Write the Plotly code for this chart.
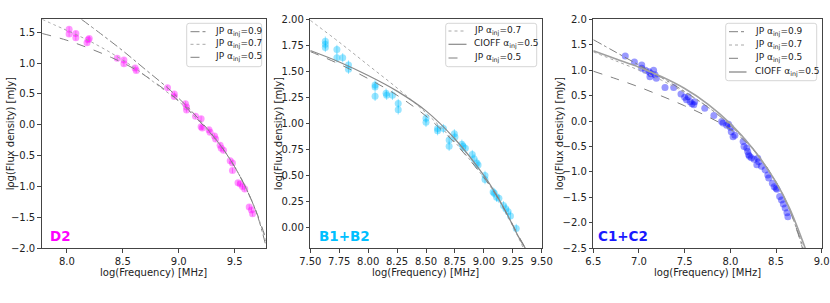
import plotly.graph_objects as go

# ---------------- data ----------------
# Panel D2
d2_x = [8.02, 8.02, 8.08, 8.08, 8.18, 8.19, 8.20, 8.45, 8.51, 8.51, 8.61, 8.62, 8.90, 8.96, 8.96,
        9.06, 9.07, 9.07, 9.15, 9.20, 9.20, 9.21, 9.27, 9.28, 9.32, 9.33, 9.37, 9.38, 9.40, 9.46,
        9.48, 9.48, 9.53, 9.55, 9.57, 9.59, 9.63, 9.65, 9.66]
d2_y = [1.55, 1.47, 1.48, 1.41, 1.33, 1.38, 1.40, 1.08, 1.05, 0.99, 0.92, 0.88, 0.60, 0.50, 0.46,
        0.34, 0.29, 0.24, 0.14, 0.10, -0.03, -0.05, -0.08, -0.12, -0.18, -0.23, -0.33, -0.38, -0.41, -0.58,
        -0.62, -0.74, -0.94, -0.96, -1.00, -1.04, -1.33, -1.38, -1.44]
d2_err = 0.04

d2_jp09_x = [8.13, 8.3, 8.5, 8.7, 8.9, 9.0, 9.1, 9.2, 9.3, 9.4, 9.5, 9.6, 9.7, 9.78]
d2_jp09_y = [1.71, 1.48, 1.20, 0.90, 0.60, 0.43, 0.25, 0.05, -0.16, -0.40, -0.68, -1.02, -1.45, -1.97]
d2_jp07_x = [7.78, 7.9, 8.0, 8.2, 8.4, 8.6, 8.8, 9.0, 9.1, 9.2, 9.3, 9.4, 9.5, 9.6, 9.7, 9.78]
d2_jp07_y = [1.71, 1.61, 1.53, 1.36, 1.16, 0.93, 0.66, 0.38, 0.21, 0.03, -0.17, -0.40, -0.68, -1.02, -1.44, -1.90]
d2_jp05_x = [7.78, 8.0, 8.2, 8.4, 8.6, 8.8, 9.0, 9.1, 9.2, 9.3, 9.4, 9.5, 9.6, 9.7, 9.78]
d2_jp05_y = [1.48, 1.37, 1.24, 1.09, 0.91, 0.67, 0.39, 0.22, 0.03, -0.17, -0.40, -0.68, -1.02, -1.44, -1.85]

# Panel B1+B2
b_x = [7.63, 7.63, 7.63, 7.73, 7.73, 7.78, 7.83, 7.83, 8.06, 8.06, 8.06, 8.155, 8.16, 8.21, 8.26,
       8.26, 8.50, 8.50, 8.60, 8.60, 8.65, 8.70, 8.70, 8.745, 8.75, 8.81, 8.82, 8.84, 8.90, 8.915,
       8.94, 8.95, 9.01, 9.01, 9.08, 9.09, 9.11, 9.13, 9.17, 9.19, 9.21, 9.23, 9.28]
b_y = [1.79, 1.76, 1.73, 1.71, 1.63, 1.63, 1.56, 1.52, 1.37, 1.35, 1.26, 1.29, 1.27, 1.27, 1.19,
       1.13, 1.05, 1.01, 0.95, 0.93, 0.95, 0.84, 0.78, 0.90, 0.87, 0.80, 0.78, 0.76, 0.70, 0.66,
       0.62, 0.60, 0.50, 0.46, 0.34, 0.33, 0.29, 0.28, 0.21, 0.18, 0.15, 0.11, -0.01]
b_err = 0.045

b_jp07_x = [7.5, 7.75, 8.0, 8.25, 8.5, 8.75, 9.0, 9.1, 9.2, 9.3, 9.35]
b_jp07_y = [1.99, 1.78, 1.56, 1.34, 1.10, 0.82, 0.48, 0.32, 0.12, -0.10, -0.22]
b_cioff_x = [7.5, 7.75, 8.0, 8.25, 8.5, 8.75, 9.0, 9.1, 9.2, 9.3, 9.37]
b_cioff_y = [1.70, 1.59, 1.46, 1.31, 1.12, 0.85, 0.50, 0.33, 0.13, -0.09, -0.22]
b_jp05_x = [7.5, 7.75, 8.0, 8.25, 8.5, 8.75, 9.0, 9.1, 9.2, 9.3, 9.36]
b_jp05_y = [1.69, 1.57, 1.43, 1.27, 1.07, 0.81, 0.48, 0.32, 0.13, -0.08, -0.20]

# Panel C1+C2
c_x = [6.85, 6.95, 7.03, 7.03, 7.07, 7.11, 7.13, 7.12, 7.16, 7.175, 7.19, 7.285, 7.38, 7.46, 7.50,
       7.52, 7.54, 7.56, 7.58, 7.60, 7.61, 7.72, 7.82, 7.905, 7.92, 7.96, 7.98, 8.00, 8.01, 8.03,
       8.05, 8.14, 8.15, 8.18, 8.19, 8.20, 8.21, 8.23, 8.26, 8.30, 8.29, 8.31, 8.34, 8.38, 8.41,
       8.42, 8.46, 8.48, 8.50, 8.51, 8.54, 8.56, 8.58, 8.60, 8.62, 8.63]
c_y = [1.28, 1.16, 1.10, 1.04, 1.00, 0.97, 0.93, 0.87, 1.00, 0.91, 0.84, 0.66, 0.66, 0.53, 0.47,
       0.42, 0.48, 0.38, 0.34, 0.32, 0.38, 0.25, 0.11, -0.01, -0.04, -0.08, -0.06, -0.12, -0.21, -0.31,
       -0.28, -0.40, -0.50, -0.53, -0.60, -0.66, -0.69, -0.72, -0.75, -0.73, -0.86, -0.80, -0.89, -0.96, -1.06,
       -1.12, -1.22, -1.29, -1.32, -1.34, -1.48, -1.55, -1.63, -1.71, -1.80, -1.88]

c_jp09_x = [6.5, 6.75, 7.0, 7.25, 7.5, 7.75, 8.0, 8.25, 8.5, 8.65, 8.8]
c_jp09_y = [1.60, 1.35, 1.10, 0.85, 0.58, 0.28, -0.08, -0.55, -1.20, -1.75, -2.5]
c_jp07_x = [6.5, 6.75, 7.0, 7.25, 7.5, 7.75, 8.0, 8.25, 8.5, 8.65, 8.79]
c_jp07_y = [1.36, 1.18, 1.00, 0.80, 0.56, 0.28, -0.08, -0.56, -1.22, -1.75, -2.5]
c_jp05_x = [6.5, 6.75, 7.0, 7.25, 7.5, 7.75, 8.0, 8.25, 8.5, 8.65, 8.79]
c_jp05_y = [0.98, 0.83, 0.67, 0.49, 0.30, 0.09, -0.16, -0.56, -1.20, -1.74, -2.5]
c_cioff_x = [6.5, 6.75, 7.0, 7.25, 7.5, 7.75, 8.0, 8.25, 8.5, 8.65, 8.82]
c_cioff_y = [1.38, 1.22, 1.06, 0.87, 0.64, 0.34, -0.05, -0.55, -1.20, -1.72, -2.5]

lab_jp09 = "JP α<sub>inj</sub>=0.9"
lab_jp07 = "JP α<sub>inj</sub>=0.7"
lab_jp05 = "JP α<sub>inj</sub>=0.5"
lab_cioff = "CIOFF α<sub>inj</sub>=0.5"
x_title = "log(Frequency) [MHz]"
y_title = "log(Flux density) [mJy]"

# ---------------- figure ----------------
W, H = 830, 303
FONT = "DejaVu Sans, sans-serif"
LINE = "#7f7f7f"
TXT = "#222222"

def px_x(p):
    return p / W

def px_y(p):
    return 1 - p / H

ydom = [px_y(248.3), px_y(19.3)]
xdoms = [[px_x(41.7), px_x(266.0)], [px_x(310.3), px_x(541.7)], [px_x(593.3), px_x(821.7)]]

fig = go.Figure()

STY = {
    "jp09": dict(dash="dashdot", color=LINE, width=1.0),
    "jp07": dict(dash="dot", color="#a8a8a8", width=1.0),
    "jp05": dict(dash="dash", color=LINE, width=1.0),
    "cioff": dict(dash="solid", color="#8a8a8a", width=1.2),
    "cioff3": dict(dash="solid", color="#a0a0a0", width=1.6),
}

def ax(idx, kind):
    return kind if idx == 1 else f"{kind}{idx}"

def model(x, y, name, sty, idx):
    s = STY[sty]
    fig.add_trace(go.Scatter(
        x=x, y=y, mode="lines", name=name.replace("<sub>", "").replace("</sub>", ""),
        line=dict(color=s["color"], width=s["width"], dash=s["dash"], shape="spline"),
        xaxis=ax(idx, "x"), yaxis=ax(idx, "y"), showlegend=False, hoverinfo="skip"))

def points(x, y, err, rgba, idx):
    fig.add_trace(go.Scatter(
        x=x, y=y, mode="markers", showlegend=False,
        marker=dict(color=rgba, size=7, line=dict(width=0)),
        error_y=dict(type="constant", value=err, color=rgba, thickness=1, width=0) if err else None,
        xaxis=ax(idx, "x"), yaxis=ax(idx, "y")))

# panel 1
points(d2_x, d2_y, d2_err, "rgba(255,0,255,0.4)", 1)
model(d2_jp09_x, d2_jp09_y, lab_jp09, "jp09", 1)
model(d2_jp07_x, d2_jp07_y, lab_jp07, "jp07", 1)
model(d2_jp05_x, d2_jp05_y, lab_jp05, "jp05", 1)

# panel 2
points(b_x, b_y, b_err, "rgba(0,191,255,0.4)", 2)
model(b_jp07_x, b_jp07_y, lab_jp07, "jp07", 2)
model(b_cioff_x, b_cioff_y, lab_cioff, "cioff", 2)
model(b_jp05_x, b_jp05_y, lab_jp05, "jp05", 2)

# panel 3
points(c_x, c_y, None, "rgba(0,0,255,0.4)", 3)
model(c_jp09_x, c_jp09_y, lab_jp09, "jp09", 3)
model(c_jp07_x, c_jp07_y, lab_jp07, "jp07", 3)
model(c_jp05_x, c_jp05_y, lab_jp05, "jp05", 3)
model(c_cioff_x, c_cioff_y, lab_cioff, "cioff3", 3)

axis_common = dict(showgrid=False, zeroline=False, showline=True, mirror=True, linecolor="#444",
                   linewidth=1, ticks="outside", ticklen=3.5, tickwidth=1, tickcolor="#444",
                   automargin=False,
                   tickfont=dict(size=10, color=TXT, family=FONT))

layout = dict(
    width=W, height=H, margin=dict(l=0, r=0, t=0, b=0, autoexpand=False),
    paper_bgcolor="white", plot_bgcolor="white", showlegend=False,
    font=dict(family=FONT, size=10, color=TXT),
    xaxis=dict(domain=xdoms[0], range=[7.775, 9.78], tickvals=[8.0, 8.5, 9.0, 9.5], tickformat=".1f",
               anchor="y", **axis_common),
    yaxis=dict(domain=ydom, range=[-2.0, 1.71], tickvals=[-2.0, -1.5, -1.0, -0.5, 0.0, 0.5, 1.0, 1.5],
               tickformat=".1f", anchor="x", **axis_common),
    xaxis2=dict(domain=xdoms[1], range=[7.5, 9.5], tickvals=[7.5, 7.75, 8.0, 8.25, 8.5, 8.75, 9.0, 9.25, 9.5],
                tickformat=".2f", anchor="y2", **axis_common),
    yaxis2=dict(domain=ydom, range=[-0.2, 2.0], tickvals=[0, 0.25, 0.5, 0.75, 1.0, 1.25, 1.5, 1.75, 2.0],
                tickformat=".2f", anchor="x2", **axis_common),
    xaxis3=dict(domain=xdoms[2], range=[6.5, 9.0], tickvals=[6.5, 7.0, 7.5, 8.0, 8.5, 9.0], tickformat=".1f",
                anchor="y3", **axis_common),
    yaxis3=dict(domain=ydom, range=[-2.5, 2.0], tickvals=[-2.5, -2.0, -1.5, -1.0, -0.5, 0.0, 0.5, 1.0, 1.5, 2.0],
                tickformat=".1f", anchor="x3", **axis_common),
)
fig.update_layout(**layout)

# ---- axis titles (as annotations for exact placement) ----
ycen = (19.3 + 248.3) / 2
for (xa, xb), ytx in zip([(41.7, 266.0), (310.3, 541.7), (593.3, 821.7)], [10.5, 278.5, 559.5]):
    fig.add_annotation(text=x_title, x=px_x((xa + xb) / 2), y=px_y(272), xref="paper", yref="paper",
                       showarrow=False, xanchor="center", yanchor="middle",
                       font=dict(size=10, color=TXT, family=FONT))
    fig.add_annotation(text=y_title, x=px_x(ytx), y=px_y(ycen), xref="paper", yref="paper",
                       showarrow=False, xanchor="center", yanchor="middle", textangle=-90,
                       font=dict(size=10, color=TXT, family=FONT))

# ---- legends (drawn in paper space, matplotlib-style boxes) ----
def rounded_box(x0, y0, x1, y1, r=2.5):
    X0, X1 = px_x(x0), px_x(x1)
    Y0, Y1 = px_y(y0), px_y(y1)
    rx, ry = r / W, r / H
    path = (f"M {X0+rx},{Y0} L {X1-rx},{Y0} Q {X1},{Y0} {X1},{Y0-ry} "
            f"L {X1},{Y1+ry} Q {X1},{Y1} {X1-rx},{Y1} L {X0+rx},{Y1} Q {X0},{Y1} {X0},{Y1+ry} "
            f"L {X0},{Y0-ry} Q {X0},{Y0} {X0+rx},{Y0} Z")
    fig.add_shape(type="path", path=path, xref="paper", yref="paper",
                  line=dict(color="#d6d6d6", width=1), fillcolor="rgba(255,255,255,0.8)", layer="above")

def legend_block(box, rows, lx0, lx1, tx):
    rounded_box(*box)
    for yrow, sty, label in rows:
        s = STY[sty]
        fig.add_shape(type="line", xref="paper", yref="paper",
                      x0=px_x(lx0), x1=px_x(lx1), y0=px_y(yrow), y1=px_y(yrow),
                      line=dict(color=s["color"], width=s["width"], dash=s["dash"]), layer="above")
        fig.add_annotation(text=label, x=px_x(tx), y=px_y(yrow), xref="paper", yref="paper",
                           showarrow=False, xanchor="left", yanchor="middle",
                           font=dict(size=9, color=TXT, family=FONT))

legend_block((186.7, 23.3, 261.7, 66.7),
             [(31.7, "jp09", lab_jp09), (44.3, "jp07", lab_jp07), (57.3, "jp05", lab_jp05)],
             190.5, 208.5, 212.5)
legend_block((445.7, 23.3, 536.7, 66.7),
             [(31.0, "jp07", lab_jp07), (44.3, "cioff", lab_cioff), (58.0, "jp05", lab_jp05)],
             448.5, 466.5, 472.0)
legend_block((725.7, 23.3, 816.7, 80.7),
             [(31.7, "jp09", lab_jp09), (45.0, "jp07", lab_jp07), (58.3, "jp05", lab_jp05),
              (72.0, "cioff3", lab_cioff)],
             729.0, 746.5, 752.5)

labels = [("D2", "#ff00ff", 60, 1), ("B1+B2", "#00bfff", 344, 2), ("C1+C2", "#1a1aff", 623, 3)]
for text, col, cx, idx in labels:
    fig.add_annotation(text=f"<b>{text}</b>", x=px_x(cx), y=px_y(236), xref="paper", yref="paper",
                       showarrow=False, xanchor="center", yanchor="middle",
                       font=dict(size=13.5, color=col, family=FONT))

fig.write_html("out.html", config={"displayModeBar": False},
               post_script="document.body.style.margin='0';document.body.style.overflow='hidden';")
